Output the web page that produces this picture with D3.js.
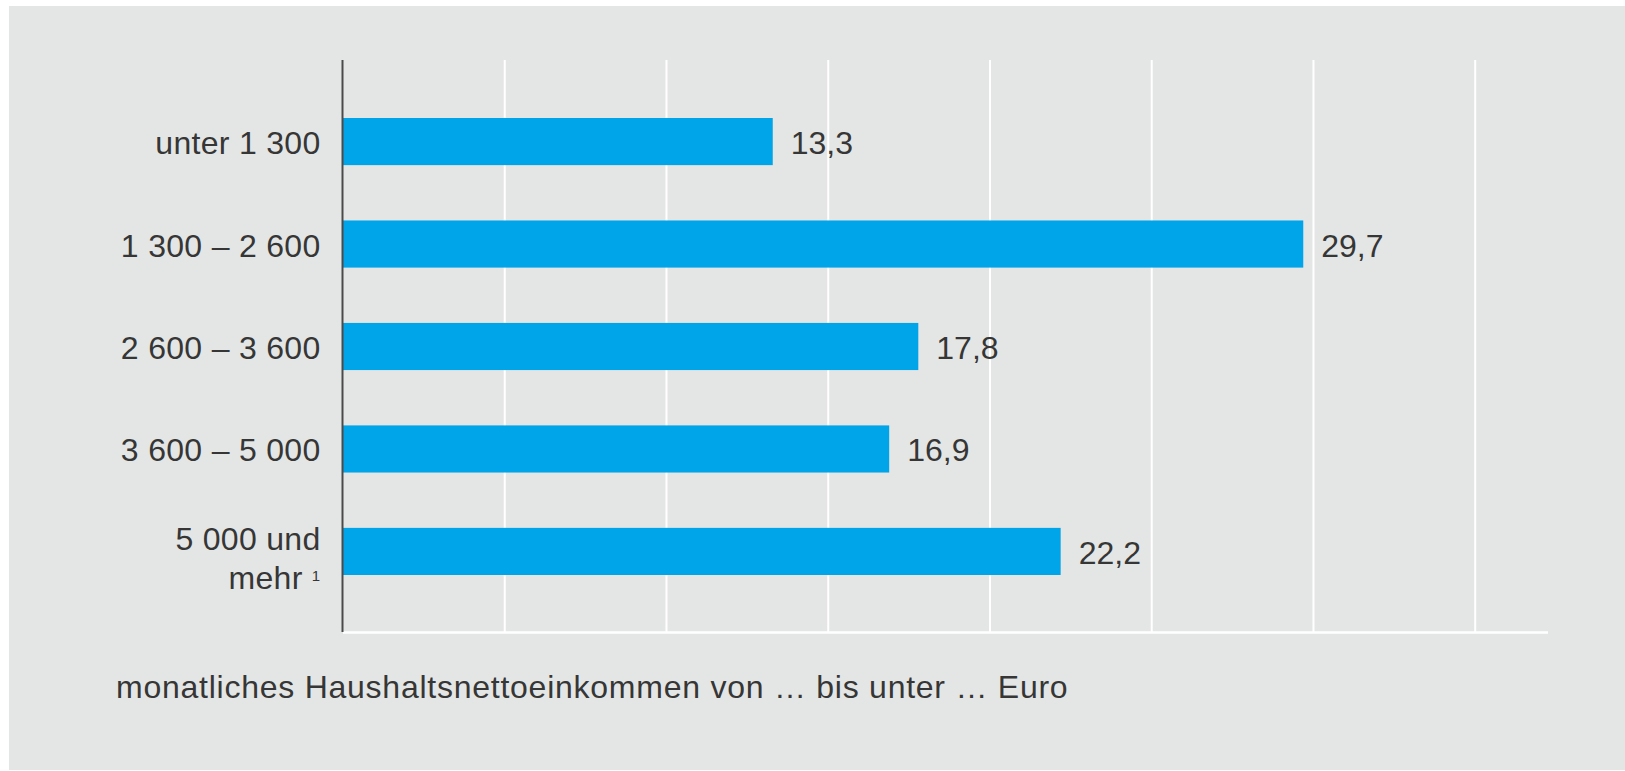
<!DOCTYPE html>
<html>
<head>
<meta charset="utf-8">
<script src="https://cdn.jsdelivr.net/npm/d3@7/dist/d3.min.js"></script>
<style>
    body { margin: 0; background: #fff; }
    svg text { font-family: "Liberation Sans", Arial, Helvetica, sans-serif; fill: #363636; }
</style>
</head>
<body>
<svg id="chart"></svg>
<script>
// Haushalte nach monatlichem Nettoeinkommen (in %)
const categories = ["unter 1\u00a0300", "1\u00a0300\u00a0–\u00a02\u00a0600", "2\u00a0600\u00a0–\u00a03\u00a0600", "3\u00a0600\u00a0–\u00a05\u00a0000", "5\u00a0000 und\nmehr"];
const footnotes = ["", "", "", "", "1"];
const values = [13.3, 29.7, 17.8, 16.9, 22.2];
const gridTicks = [5, 10, 15, 20, 25, 30, 35];
const xMax = 37.25;
const caption = "monatliches Haushaltsnettoeinkommen von … bis unter … Euro";

const width = 1625, height = 771;
const plot = { left: 342.5, right: 1547.5, top: 60, bottom: 632 };

const svg = d3.select("#chart").attr("width", width).attr("height", height);

svg.append("rect")
    .attr("x", 9).attr("y", 6)
    .attr("width", width - 9).attr("height", height - 7)
    .attr("fill", "#e4e6e5");

const x = d3.scaleLinear().domain([0, xMax]).range([plot.left, plot.right]);
const y = d3.scaleBand().domain(categories).range([plot.top + 58, plot.bottom - 57]).paddingInner(0.54);

const de = d3.formatLocale({ decimal: ",", thousands: "\u2009", grouping: [3], currency: ["", " €"] });
const fmt = de.format(".1f");

// white grid + baseline
const grid = svg.append("g")
    .attr("transform", `translate(0,${plot.bottom})`)
    .call(d3.axisBottom(x).tickValues(gridTicks).tickSize(-(plot.bottom - plot.top)).tickSizeOuter(0).tickFormat(""));
grid.selectAll("line").attr("stroke", "#fff").attr("stroke-width", 2);
grid.select(".domain").attr("stroke", "#fff").attr("stroke-width", 2.5);

// bars
svg.append("g").selectAll("rect")
    .data(values)
    .join("rect")
    .attr("x", x(0))
    .attr("y", (d, i) => y(categories[i]))
    .attr("width", d => x(d) - x(0))
    .attr("height", y.bandwidth())
    .attr("fill", "#00a4e9");

// value labels
svg.append("g").selectAll("text")
    .data(values)
    .join("text")
    .attr("x", d => x(d) + 18)
    .attr("y", (d, i) => y(categories[i]) + y.bandwidth() / 2 + 12.5)
    .attr("font-size", 32)
    .text(d => fmt(d));

// vertical axis line
svg.append("line")
    .attr("x1", x(0)).attr("x2", x(0))
    .attr("y1", plot.top).attr("y2", plot.bottom)
    .attr("stroke", "#4a4a4a").attr("stroke-width", 2);

// category labels
const yAxis = svg.append("g")
    .attr("transform", `translate(${x(0)},0)`)
    .call(d3.axisLeft(y).tickSize(0).tickPadding(22));
yAxis.select(".domain").remove();
yAxis.selectAll(".tick text")
    .attr("font-size", 32)
    .attr("letter-spacing", 0.3)
    .attr("dy", null)
    .each(function (d, i) {
        const t = d3.select(this).text("");
        const lines = d.split("\n");
        const first = lines.length > 1 ? -1 : 12.5;
        lines.forEach((line, k) => {
            t.append("tspan").attr("x", -22).attr("y", k === 0 ? first : first + 39).text(line);
            if (k === lines.length - 1 && footnotes[i]) {
                t.append("tspan").text(" ");
                t.append("tspan").attr("font-size", 15).attr("dy", -8).text(footnotes[i]);
            }
        });
    });

svg.append("text")
    .attr("x", 116)
    .attr("y", 698)
    .attr("font-size", 32)
    .attr("letter-spacing", 0.75)
    .text(caption);
</script>
</body>
</html>
